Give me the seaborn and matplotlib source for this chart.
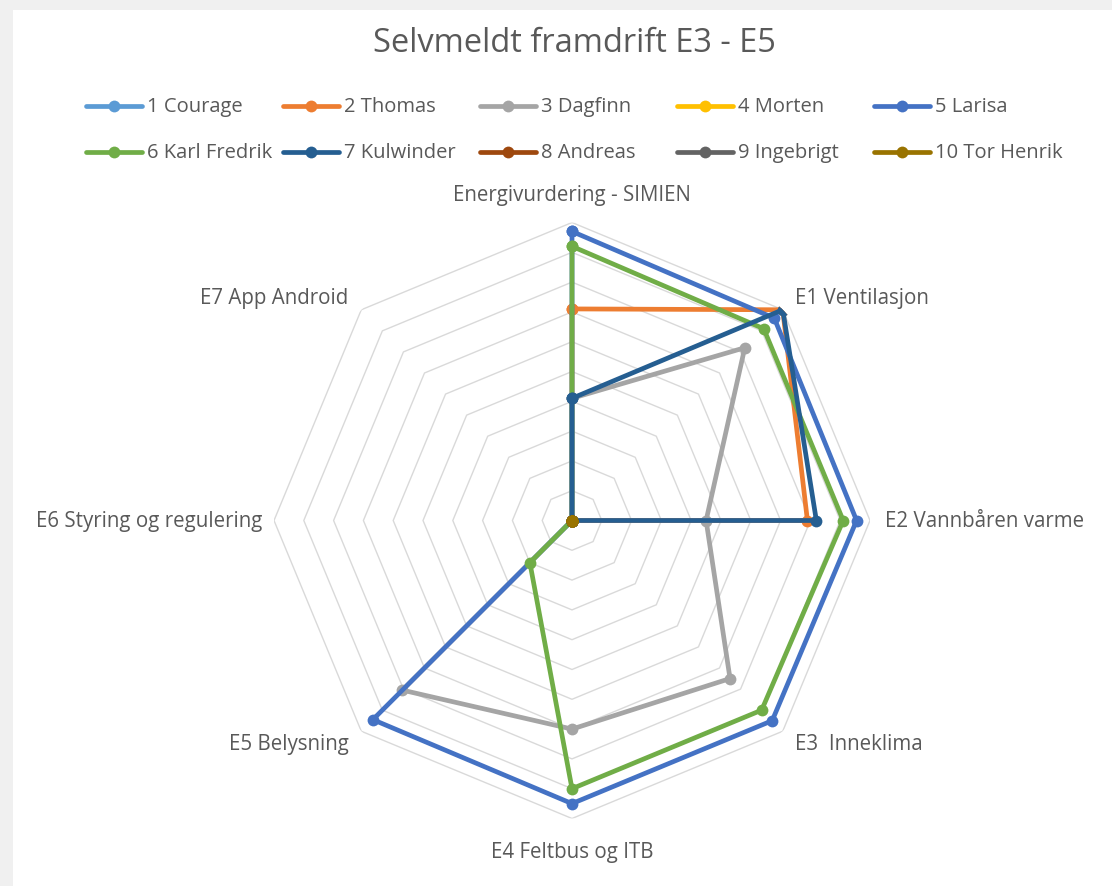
"""Radar: Selvmeldt framdrift E3 - E5."""
import numpy as np
import pandas as pd
import matplotlib
matplotlib.use("Agg")
import matplotlib.pyplot as plt
from matplotlib.lines import Line2D
from matplotlib.patches import Rectangle
import seaborn as sns

sns.set_theme(style="white")
plt.rcParams["font.family"] = ["Open Sans", "DejaVu Sans"]

W, H = 1112, 887
TEXT = "#595959"

kategorier = ["Energivurdering - SIMIEN", "E1 Ventilasjon", "E2 Vannbåren varme",
              "E3  Inneklima", "E4 Feltbus og ITB", "E5 Belysning",
              "E6 Styring og regulering", "E7 App Android"]

serier = ["1 Courage", "2 Thomas", "3 Dagfinn", "4 Morten", "5 Larisa",
          "6 Karl Fredrik", "7 Kulwinder", "8 Andreas", "9 Ingebrigt", "10 Tor Henrik"]

courage = [0, 0, 0, 0, 0, 0, 0, 0]
thomas = [7.1, 10.0, 7.9, 0, 0, 0, 0, 0]
dagfinn = [4.1, 8.2, 4.5, 7.5, 7.0, 8.05, 0, 0]
morten = [0, 0, 0, 0, 0, 0, 0, 0]
larisa = [9.7, 9.6, 9.55, 9.5, 9.5, 9.45, 0, 0]
karl_fredrik = [9.2, 9.1, 9.1, 9.0, 9.0, 2.0, 0, 0]
kulwinder = [4.1, 10.0, 8.2, 0, 0, 0, 0, 0]
andreas = [0, 0, 0, 0, 0, 0, 0, 0]
ingebrigt = [0, 0, 0, 0, 0, 0, 0, 0]
tor_henrik = [0, 0, 0, 0, 0, 0, 0, 0]

farger = ["#5B9BD5", "#ED7D31", "#A5A5A5", "#FFC000", "#4472C4",
          "#70AD47", "#255E91", "#9E480E", "#636363", "#997300"]

verdier = [courage, thomas, dagfinn, morten, larisa,
           karl_fredrik, kulwinder, andreas, ingebrigt, tor_henrik]

n = len(kategorier)
theta = np.arange(n) * 2 * np.pi / n
theta_closed = np.append(theta, 2 * np.pi)

rows = []
for navn, v in zip(serier, verdier):
    for t, r in zip(theta_closed, list(v) + [v[0]]):
        rows.append({"serie": navn, "theta": t, "verdi": r})
df = pd.DataFrame(rows)

fig = plt.figure(figsize=(W / 100, H / 100), dpi=100, facecolor="#F0F0F0")
fig.add_artist(Rectangle((13 / W, 0), 1, 1 - 11 / H, transform=fig.transFigure,
                         facecolor="white", edgecolor="none", zorder=0))

cx, cy, R = 572, 521.5, 298
ax = fig.add_axes([(cx - R) / W, (H - cy - R) / H, 2 * R / W, 2 * R / H],
                  projection="polar")
ax.set_facecolor("none")
ax.set_theta_zero_location("N")
ax.set_theta_direction(-1)

# octagon rings
for k in range(1, 11):
    ax.plot(theta_closed, [k] * (n + 1), color="#D9D9D9", lw=1, zorder=0)

sns.lineplot(data=df, x="theta", y="verdi", hue="serie", hue_order=serier,
             palette=farger, sort=False, estimator=None, marker="o",
             markersize=8.5, markeredgewidth=0, linewidth=3.4,
             solid_joinstyle="round", legend=False, ax=ax)

ax.set_ylim(0, 10)
ax.grid(False)
ax.spines["polar"].set_visible(False)
ax.set_xticks([])
ax.set_yticks([])
ax.set_xlabel("")
ax.set_ylabel("")

plassering = [(10.95, "center", "center"), (10.6, "left", "center"),
              (10.5, "left", "center"), (10.6, "left", "center"),
              (11.1, "center", "center"), (10.6, "right", "center"),
              (10.4, "right", "center"), (10.6, "right", "center")]
for t, lab, (r, ha, va) in zip(theta, kategorier, plassering):
    ax.text(t, r, lab, ha=ha, va=va, fontsize=14.8, color=TEXT)

fig.text(574 / W, 1 - 44 / H, "Selvmeldt framdrift E3 - E5", ha="center",
         va="center", fontsize=23.5, color=TEXT)

# legend in Excel layout: 5 equal columns, 2 rows
for i, (navn, c) in enumerate(zip(serier, farger)):
    x0 = 86 + (i % 5) * 197
    y = H - (107 + (i // 5) * 46)
    fig.add_artist(Line2D([x0 / W, (x0 + 56) / W], [y / H, y / H], color=c, lw=3.4,
                          transform=fig.transFigure, solid_capstyle="round"))
    fig.add_artist(Line2D([(x0 + 28) / W], [y / H], color=c, marker="o",
                          markersize=8.5, markeredgewidth=0, transform=fig.transFigure))
    fig.text((x0 + 61) / W, y / H, navn, ha="left", va="center", fontsize=14.5,
             color=TEXT)

fig.savefig("out.png", dpi=100, facecolor=fig.get_facecolor())
plt.close()
